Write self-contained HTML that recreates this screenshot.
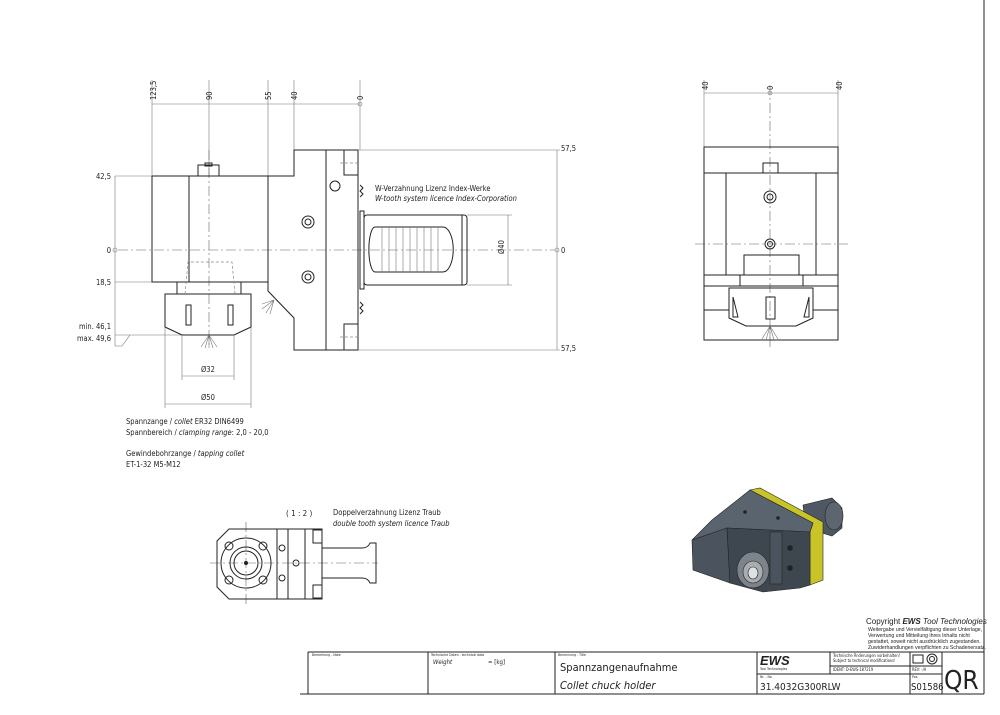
<!DOCTYPE html>
<html><head><meta charset="utf-8"><style>
html,body{margin:0;padding:0;background:#fff;}
svg{display:block;font-family:"DejaVu Sans Condensed","Liberation Sans",sans-serif;}
.l{stroke:#222;stroke-width:1;fill:none}
.t{stroke:#777;stroke-width:0.6;fill:none}
.c{stroke:#666;stroke-width:0.6;fill:none;stroke-dasharray:10 3 2 3}
.d{stroke:#888;stroke-width:0.7;fill:none;stroke-dasharray:3 2}
text{fill:#222}
.s{font-size:7.5px}
.n{font-size:8px}
</style></head><body>
<svg width="1000" height="715" viewBox="0 0 1000 715" xmlns="http://www.w3.org/2000/svg">
<rect width="1000" height="715" fill="#fff"/>

<!-- MAIN VIEW -->
<line class="t" x1="152" y1="104" x2="360" y2="104"/>
<line class="t" x1="152" y1="80" x2="152" y2="176"/>
<line class="t" x1="209" y1="80" x2="209" y2="176"/>
<line class="t" x1="268" y1="80" x2="268" y2="176"/>
<line class="t" x1="294" y1="80" x2="294" y2="150"/>
<line class="t" x1="360" y1="80" x2="360" y2="150"/>
<circle cx="360" cy="104" r="2" class="t"/>
<g class="s">
<text transform="translate(156,100) rotate(-90)">123,5</text>
<text transform="translate(212,100) rotate(-90)">90</text>
<text transform="translate(271,100) rotate(-90)">55</text>
<text transform="translate(297,100) rotate(-90)">40</text>
<text transform="translate(363,100) rotate(-90)">0</text>
</g>
<line class="t" x1="115" y1="176" x2="115" y2="346"/>
<line class="t" x1="115" y1="176" x2="152" y2="176"/>
<line class="t" x1="115" y1="282" x2="152" y2="282"/>
<line class="t" x1="115" y1="335" x2="182" y2="335"/>
<polyline class="t" points="115,346 122,346 130,335"/>
<circle cx="115" cy="250" r="2" class="t"/>
<g class="s" text-anchor="end">
<text x="111" y="179">42,5</text>
<text x="111" y="253">0</text>
<text x="111" y="285">18,5</text>
<text x="111" y="329">min. 46,1</text>
<text x="111" y="341">max. 49,6</text>
</g>
<line class="c" x1="118" y1="250" x2="555" y2="250"/>
<line class="c" x1="209" y1="150" x2="209" y2="345"/>
<polyline class="l" points="152,176 152,282 268,282 268,291 294,318 294,350 358,350 358,150 294,150 294,176 152,176"/>
<line class="l" x1="268" y1="176" x2="268" y2="282"/>
<line class="l" x1="189" y1="176" x2="189" y2="282"/>
<rect class="l" x="326" y="150" width="32" height="200"/>
<rect class="l" x="344" y="150" width="14" height="25"/>
<rect class="l" x="344" y="324" width="14" height="26"/>
<line class="d" x1="340" y1="163" x2="358" y2="163"/>
<line class="d" x1="340" y1="337" x2="358" y2="337"/>
<circle class="l" cx="335" cy="186" r="5"/>
<circle class="l" cx="308" cy="222" r="6"/><circle class="l" cx="308" cy="222" r="3"/>
<circle class="l" cx="308" cy="277" r="6"/><circle class="l" cx="308" cy="277" r="3"/>
<rect class="l" x="198" y="165" width="21" height="11"/>
<rect class="l" x="205" y="163" width="7" height="3"/>
<path class="l" d="M360,185 l3,3 -3,3 3,3 -3,3 M360,302 l3,3 -3,3 3,3 -3,3"/>
<rect class="l" x="360" y="211" width="4" height="78"/>
<rect class="l" x="364" y="215" width="103" height="70" rx="3"/>
<line class="l" x1="462" y1="215" x2="462" y2="285"/>
<path class="l" d="M375,227 h68 a10,22 0 0 1 0,45 h-68 a6,22 0 0 1 0,-45z"/>
<g class="t">
<path d="M382,227v45M389,227v45M396,227v45M403,227v45M410,227v45M417,227v45M424,227v45M431,227v45M438,227v45"/>
</g>
<line class="t" x1="467" y1="215" x2="512" y2="215"/>
<line class="t" x1="467" y1="285" x2="512" y2="285"/>
<line class="t" x1="508" y1="215" x2="508" y2="285"/>
<text class="s" transform="translate(504,254) rotate(-90)">Ø40</text>
<line class="t" x1="358" y1="150" x2="560" y2="150"/>
<line class="t" x1="358" y1="350" x2="560" y2="350"/>
<line class="t" x1="557" y1="150" x2="557" y2="350"/>
<circle cx="557" cy="250" r="2" class="t"/>
<g class="s"><text x="561" y="151">57,5</text><text x="561" y="253">0</text><text x="561" y="351">57,5</text></g>
<text class="s" x="375" y="191">W-Verzahnung Lizenz Index-Werke</text>
<text class="s" x="375" y="201" font-style="italic">W-tooth system licence Index-Corporation</text>
<rect class="l" x="177" y="282" width="64" height="12"/>
<polygon class="l" points="165,294 251,294 251,327 234,335 182,335 165,327"/>
<polyline class="d" points="185,294 188,262 232,262 235,294"/>
<path class="l" d="M186,305 v20 h5 v-20z M228,305 v20 h5 v-20z"/>
<path class="t" d="M209,335 l-8,12 M209,335 l-4,13 M209,335 l0,13 M209,335 l4,13 M209,335 l8,12"/>
<path class="t" d="M274,300 l-12,4 M274,300 l-12,9 M274,300 l-8,13 M274,300 l-4,14"/>
<line class="t" x1="182" y1="335" x2="182" y2="380"/><line class="t" x1="234" y1="335" x2="234" y2="380"/>
<line class="t" x1="182" y1="376" x2="234" y2="376"/>
<line class="t" x1="165" y1="327" x2="165" y2="408"/><line class="t" x1="251" y1="327" x2="251" y2="408"/>
<line class="t" x1="165" y1="404" x2="251" y2="404"/>
<text class="s" x="201" y="372">Ø32</text>
<text class="s" x="201" y="400">Ø50</text>

<g class="s">
<text x="126" y="424">Spannzange / <tspan font-style="italic">collet</tspan>    ER32    DIN6499</text>
<text x="126" y="435">Spannbereich / <tspan font-style="italic">clamping range</tspan>: 2,0 - 20,0</text>
<text x="126" y="456">Gewindebohrzange / <tspan font-style="italic">tapping collet</tspan></text>
<text x="126" y="467">ET-1-32   M5-M12</text>
</g>

<!-- RIGHT VIEW -->
<line class="t" x1="704" y1="93" x2="838" y2="93"/>
<line class="t" x1="704" y1="80" x2="704" y2="147"/><line class="t" x1="838" y1="80" x2="838" y2="147"/>
<circle cx="770" cy="93" r="2" class="t"/>
<g class="s"><text transform="translate(708,90) rotate(-90)">40</text><text transform="translate(773,90) rotate(-90)">0</text><text transform="translate(842,90) rotate(-90)">40</text></g>
<line class="c" x1="770" y1="85" x2="770" y2="348"/>
<line class="c" x1="695" y1="244" x2="848" y2="244"/>
<rect class="l" x="704" y="147" width="134" height="193"/>
<line class="l" x1="704" y1="173" x2="838" y2="173"/>
<line class="l" x1="704" y1="275" x2="838" y2="275"/>
<line class="l" x1="704" y1="286" x2="838" y2="286"/>
<line class="l" x1="704" y1="310" x2="729" y2="310"/><line class="l" x1="813" y1="310" x2="838" y2="310"/>
<line class="l" x1="726" y1="173" x2="726" y2="275"/><line class="l" x1="816" y1="173" x2="816" y2="275"/>
<rect class="l" x="763" y="163" width="15" height="10"/>
<circle class="l" cx="770" cy="197" r="6"/><circle class="l" cx="770" cy="197" r="3"/>
<circle class="l" cx="770" cy="244" r="5"/><circle class="l" cx="770" cy="244" r="2.5"/>
<rect class="l" x="744" y="255" width="55" height="20"/>
<rect class="l" x="740" y="275" width="63" height="11"/>
<polygon class="l" points="729,288 813,288 813,318 796,326 746,326 729,318"/>
<rect class="l" x="766" y="297" width="9" height="22"/>
<path class="l" d="M733,297 v20 h5z M809,297 v20 h-5z"/>
<path class="t" d="M770,326 l-8,13 M770,326 l-4,14 M770,326 l0,14 M770,326 l4,14 M770,326 l8,13"/>

<!-- SMALL VIEW -->
<text class="n" x="286" y="516">( 1 : 2 )</text>
<text class="s" x="333" y="515">Doppelverzahnung Lizenz Traub</text>
<text class="s" x="333" y="526" font-style="italic">double tooth system licence Traub</text>
<line class="c" x1="210" y1="563" x2="378" y2="563"/>
<line class="c" x1="246" y1="522" x2="246" y2="605"/>
<polygon class="l" points="229,529 277,529 277,599 229,599 217,587 217,541"/>
<circle class="l" cx="246" cy="563" r="25"/>
<circle class="l" cx="246" cy="563" r="16"/><circle class="l" cx="246" cy="563" r="12"/>
<circle fill="#222" cx="246" cy="563" r="2"/>
<g class="l"><circle cx="229" cy="546" r="4"/><circle cx="263" cy="546" r="4"/><circle cx="229" cy="580" r="4"/><circle cx="263" cy="580" r="4"/></g>
<rect class="l" x="277" y="529" width="45" height="70"/>
<line class="l" x1="288" y1="529" x2="288" y2="599"/><line class="l" x1="305" y1="529" x2="305" y2="599"/>
<rect class="l" x="313" y="530" width="9" height="13"/><rect class="l" x="313" y="585" width="9" height="13"/>
<circle class="l" cx="282" cy="548" r="3"/><circle class="l" cx="282" cy="578" r="3"/><circle class="l" cx="296" cy="563" r="3"/>
<path class="l" d="M322,548 h40 q6,0 8,-5 h6 v40 h-6 q-2,-5 -8,-5 h-40z"/>

<!-- 3D -->
<g stroke="#222" stroke-width="0.6">
<polygon points="803,505 832,498 842,508 842,528 832,536 806,528" fill="#4f5862"/>
<ellipse cx="834" cy="516" rx="9" ry="14" fill="#5d6670"/>
<polygon points="750,490 760,488 823,522 823,580 810,585 810,532 813,523" fill="#c8c428"/>
<polygon points="692,540 712,520 750,490 813,523 810,532 770,530 727,528" fill="#5a646e"/>
<polygon points="692,540 727,528 730,583 693,570" fill="#4b545e"/>
<polygon points="727,528 770,530 810,532 810,585 800,588 763,592 730,583" fill="#3e4750"/>
<rect x="770" y="532" width="12" height="52" fill="#4b545e"/>
<ellipse cx="753" cy="570" rx="16" ry="18" fill="#7c838a"/>
<ellipse cx="753" cy="572" rx="10" ry="11" fill="#a8adb2"/>
<ellipse cx="753" cy="573" rx="5" ry="6" fill="#dfe2e4"/>
<circle cx="745" cy="512" r="1.5" fill="#222"/><circle cx="778" cy="518" r="1.5" fill="#222"/>
<circle cx="790" cy="548" r="2.5" fill="#222"/><circle cx="790" cy="568" r="2.5" fill="#222"/>
</g>

<!-- copyright -->
<text x="866" y="624" font-size="8" font-family="Liberation Sans"><tspan>Copyright </tspan><tspan font-weight="bold" font-style="italic">EWS</tspan><tspan font-style="italic"> Tool Technologies</tspan></text>
<g font-size="5.2" font-family="Liberation Sans"><text x="868" y="631">Weitergabe und Vervielfältigung dieser Unterlage,</text><text x="868" y="637">Verwertung und Mitteilung ihres Inhalts nicht</text><text x="868" y="643">gestattet, soweit nicht ausdrücklich zugestanden.</text><text x="868" y="649">Zuwiderhandlungen verpflichten zu Schadenersatz.</text></g>

<!-- title block -->
<line class="l" x1="984" y1="0" x2="984" y2="694"/>
<line class="l" x1="300" y1="694" x2="984" y2="694"/>
<line class="l" x1="308" y1="652" x2="984" y2="652"/>
<g class="l">
<line x1="308" y1="652" x2="308" y2="694"/><line x1="428" y1="652" x2="428" y2="694"/>
<line x1="555" y1="652" x2="555" y2="694"/><line x1="757" y1="652" x2="757" y2="694"/>
<line x1="942" y1="652" x2="942" y2="694"/>
<line x1="757" y1="674" x2="942" y2="674"/>
<line x1="830" y1="652" x2="830" y2="674"/>
<line x1="910" y1="652" x2="910" y2="694"/>
<line x1="830" y1="666" x2="942" y2="666"/>
</g>
<g font-size="3.5"><text x="312" y="656">Bemerkung - Note</text><text x="431" y="656">Technische Daten - technical data</text><text x="558" y="656">Benennung - Title</text><text x="760" y="678">Nr. - No</text><text x="912" y="678">Pos.</text></g>
<text x="433" y="664" font-size="6" font-style="italic">Weight</text>
<text x="488" y="664" font-size="6">=   [kg]</text>
<text x="560" y="671" font-size="11">Spannzangenaufnahme</text>
<text x="560" y="689" font-size="11" font-style="italic">Collet chuck holder</text>
<text x="760" y="665" font-size="13" font-weight="bold" font-style="italic" font-family="Liberation Sans">EWS</text>
<text x="760" y="670" font-size="3.5">Tool Technologies</text>
<g font-size="4"><text x="833" y="657">Technische Änderungen vorbehalten!</text><text x="833" y="662">Subject to technical modifications!</text><text x="833" y="671">IDENT: D-EWS-187219</text><text x="912" y="671">REV: -/A</text></g>
<rect class="l" x="913" y="655" width="10" height="8"/><circle class="l" cx="932" cy="659" r="5"/><circle class="l" cx="932" cy="659" r="2.5"/>
<text x="760" y="690" font-size="10">31.4032G300RLW</text>
<text x="911" y="690" font-size="9.5">S01586</text>
<text x="944" y="689" font-size="26">QR</text>
</svg>
</body></html>
